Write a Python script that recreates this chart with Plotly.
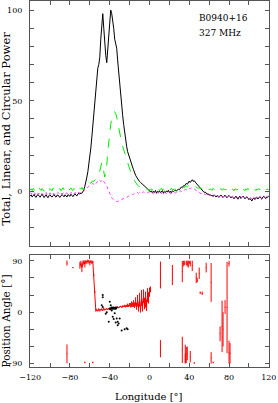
import numpy as np
import plotly.graph_objects as go

# ---------------- data ----------------
lon = np.arange(-120, 121, 1)  # 1-degree bins

total_I = [
    -2.5, -1.8, -3.0, -2.2, -1.5, -2.8, -3.2, -2.0, -1.6, -2.6,
    -3.1, -2.2, -1.4, -2.5, -3.3, -2.4, -1.7, -2.9, -3.4, -2.1,
    -1.8, -2.7, -3.0, -2.3, -1.5, -2.6, -3.1, -2.0, -1.9, -2.8,
    -3.2, -2.4, -1.6, -2.2, -2.9, -1.8, -2.5, -3.0, -1.7, -2.2,
    -2.6, -1.5, -2.1, -2.8, -1.9, -1.2, -2.0, -2.4, -1.3, -1.0,
    -1.4, -0.8, -1.0, 0.0, 1.0, 3.0, 5.0, 8.0, 11.0, 15.0,
    19, 24, 30, 37, 44, 50, 59, 66, 68, 70,
    74, 84, 92, 98, 90, 81, 75, 71, 78, 88,
    96, 100, 98, 95, 90, 84, 81, 79, 72, 65,
    59, 53, 47, 42, 37, 32, 28, 25, 22, 20,
    18, 16, 15, 13.5, 12, 10, 9, 8, 7, 6,
    5.5, 5, 4.5, 4.5, 4, 3, 2.5, 2.5, 1.5, 1,
    0.5, -0.3, 0.4, -0.8, 0.2, -0.5, 0.6, -0.9, 0.1, -0.4,
    0.5, -0.7, -0.2, 0.6, -1.0, 0.0, -0.6, 0.4, -0.3, 0.7,
    -0.5, 0.2, -0.8, 0.5, -0.1, 0.3, 0.9, 0.2, 1.0, 1.4,
    1.0, 1.8, 2.5, 2.2, 3.2, 3.0, 3.6, 4.5, 4.0, 5.2,
    5.8, 5.0, 6.2, 6.5, 5.6, 6.0, 5.2, 4.5, 4.0, 3.2,
    3.0, 2.0, 1.2, 0.5, 0.0, -0.5, -0.2, -1.0, -1.5, -1.2,
    -2.0, -1.6, -2.4, -2.0, -2.8, -1.8, -2.5, -3.0, -2.2, -2.7,
    -3.2, -2.4, -1.9, -2.8, -3.3, -2.5, -2.0, -2.9, -3.4, -2.6,
    -2.1, -2.8, -3.5, -2.7, -3.0, -4.0, -3.2, -2.5, -3.6, -4.2,
    -3.0, -2.6, -3.8, -3.3, -2.5, -3.1, -4.0, -3.4, -2.9, -3.6,
    -4.5, -3.8, -4.8, -5.2, -4.0, -3.5, -4.4, -3.8, -3.2, -4.1,
    -3.5, -2.8, -3.7, -4.2, -3.0, -2.6, -3.4, -3.9, -2.8, -3.2,
    -2.5,
]

linear_L = [
    0.8, 1.5, 0.5, 1.8, 1.0, 0.3, 1.6, 1.2, 0.4, 1.9,
    1.1, 0.6, 1.7, 0.9, 0.2, 1.4, 1.8, 0.7, 1.2, 0.5,
    1.6, 1.0, 0.4, 1.9, 1.3, 0.6, 1.5, 2.0, 0.8, 1.1,
    1.7, 0.5, 1.3, 2.1, 0.9, 1.4, 0.6, 1.8, 1.2, 0.7,
    1.5, 2.0, 1.0, 0.6, 1.7, 1.3, 2.2, 0.9, 1.6, 1.1,
    1.8, 1.2, 2.3, 1.0, 1.5, 2.0, 3.0, 3.5, 3.0, 4.0,
    5.0, 4.5, 5.0, 6.0, 5.5, 6.0, 7.0, 7.0, 8.0, 9.0,
    11, 13, 16, 14, 10, 8, 10, 14, 22, 28,
    34, 37, 40, 42, 43.5, 44, 43, 41, 38, 34,
    31, 29, 27, 25, 23, 21, 19, 17.5, 15.5, 14,
    12.5, 11, 9.5, 8.5, 7, 6, 5, 4, 3.5, 3,
    2.5, 2.2, 2.0, 1.5, 1.8, 1.2, 1.6, 0.9, 1.4, 1.0,
    1.3, 0.7, 1.5, 1.0, 0.5, 1.6, 1.2, 0.8, 1.7, 1.1,
    0.6, 1.4, 1.9, 0.9, 1.3, 0.5, 1.6, 1.1, 0.7, 1.5,
    1.2, 0.8, 1.8, 1.0, 1.4, 0.6, 1.7, 1.3, 1.9, 1.5,
    2.0, 1.6, 2.2, 1.8, 2.5, 2.1, 2.8, 3.0, 2.6, 3.2,
    3.5, 3.0, 3.8, 3.4, 3.0, 3.3, 2.7, 2.4, 2.0, 1.8,
    2.2, 1.5, 1.9, 1.2, 1.6, 1.0, 1.4, 0.8, 1.3, 1.7,
    0.9, 1.5, 1.1, 0.6, 1.8, 1.2, 0.7, 1.4, 1.9, 1.0,
    0.5, 1.3, 1.7, 0.8, 1.2, 1.6, 0.9, 1.4, 0.6, 1.1,
    1.8, 1.0, 0.7, 1.5, 1.2, 0.4, 1.6, 1.1, 0.8, 1.7,
    1.3, 0.6, 1.4, 1.9, 0.9, 1.2, 0.5, 1.5, 1.0, 1.8,
    0.7, 1.3, 1.6, 0.8, 1.1, 1.9, 1.2, 0.6, 1.4, 1.0,
    1.7, 0.9, 1.3, 0.5, 1.5, 1.8, 1.1, 0.7, 1.4, 1.2,
    1.0,
]

circular_V = [
    -0.5, -1.2, -0.8, -1.5, -0.6, -1.0, -1.8, -0.7, -1.3, -0.9,
    -1.4, -0.6, -1.1, -1.7, -0.8, -1.2, -0.5, -1.6, -1.0, -1.3,
    -0.7, -1.5, -1.1, -0.6, -1.4, -1.8, -0.9, -1.2, -0.5, -1.0,
    -1.6, -0.8, -1.3, -1.0, -0.6, -1.5, -1.1, -0.7, -1.4, -0.9,
    -1.2, -0.5, -1.0, -1.6, -0.8, -1.1, -0.6, -1.3, -0.7, -0.4,
    -0.9, -0.3, -0.6, 0.0, 0.5, 0.8, 1.5, 2.0, 2.5, 3.0,
    3.5, 3.5, 4.0, 4.5, 4.0, 5.0, 4.5, 5.0, 5.5, 5.0,
    6.0, 5.5, 6.0, 6.5, 5.5, 5.0, 4.0, 3.0, 1.5, 0.0,
    -1.5, -2.5, -3.5, -4.0, -4.5, -5.0, -5.0, -5.5, -5.5, -5.0,
    -5.0, -4.5, -4.5, -4.0, -4.0, -3.5, -3.5, -3.0, -3.0, -2.5,
    -2.5, -2.0, -2.0, -1.5, -1.5, -1.0, -1.2, -0.8, -0.6, -1.0,
    -0.5, -0.8, -0.3, -0.6, -0.2, -0.5, 0.0, -0.4, -0.7, -0.3,
    -0.6, -1.0, -0.4, -0.8, -1.2, -0.5, -0.9, -1.3, -0.6, -1.0,
    -1.4, -0.7, -1.1, -0.5, -0.9, -1.3, -0.8, -1.2, -0.6, -1.0,
    -0.7, -1.2, -0.9, -0.5, -1.0, -0.6, -0.8, -0.3, -0.5, 0.0,
    -0.2, 0.3, 0.0, 0.6, 0.4, 0.9, 1.2, 1.0, 1.5, 1.3,
    1.8, 1.5, 2.0, 1.6, 1.2, 1.4, 0.9, 0.6, 0.2, -0.2,
    -0.5, -0.8, -1.2, -0.9, -1.5, -1.3, -1.8, -1.4, -2.0, -1.7,
    -2.2, -1.8, -2.5, -2.1, -2.7, -2.3, -2.0, -2.6, -2.9, -2.4,
    -2.8, -2.2, -2.6, -3.0, -2.5, -2.9, -2.3, -2.7, -3.1, -2.6,
    -2.4, -2.9, -3.2, -2.6, -3.0, -3.4, -2.8, -2.5, -3.1, -3.5,
    -2.9, -2.6, -3.3, -3.0, -2.7, -3.2, -3.6, -3.0, -2.8, -3.3,
    -3.7, -3.2, -3.9, -4.1, -3.5, -3.0, -3.6, -3.3, -2.9, -3.4,
    -3.1, -2.7, -3.2, -3.6, -2.8, -2.5, -3.0, -3.4, -2.6, -2.9,
    -2.4,
]

# main position-angle track (degrees) and its errors
pa_lon = list(range(-70, 2))
pa_val = [
    82, 85, 78, 86, 88, 84, 89, 87, 90, 88,
    86, 89, 87, 88, 65, 35, 3, 4, 2, 5,
    3, 4, 5, 3, 6, 4, 5, 6, 5, 6,
    7, 6, 7, 7, 8, 7, 8, 8, 9, 8,
    9, 10, 9, 10, 10, 11, 10, 11, 12, 11,
    13, 12, 14, 13, 15, 12, 18, 10, 20, 8,
    22, 5, 25, 10, 28, 15, 22, 12, 30, 25,
    35, 40,
]
pa_err = [
    6, 5, 8, 4, 3, 6, 2, 3, 2, 3,
    4, 2, 3, 2, 2, 2, 2, 2, 1, 2,
    2, 1, 2, 1, 2, 1, 1, 1, 1, 1,
    1, 1, 1, 1, 1, 1, 1, 1, 1, 1,
    1, 1, 1, 2, 1, 2, 2, 2, 3, 2,
    3, 4, 5, 4, 6, 5, 8, 6, 10, 7,
    12, 6, 14, 9, 12, 10, 14, 10, 12, 10,
    8, 5,
]

# isolated position-angle measurements (centre, half-length)
seg_lon = [-83, -83, -77, -65, -57, 11, 11, 23, 33, 33, 34, 35, 36, 37, 38,
           39, 40, 41, 43, 36, 37, 38, 41, 45, 47, 48, 50, 51, 53, 57, 62, 62,
           64, 71, 73, 74, 76, 78, 80, 80, 81]
seg_pa = [86, -73, 78, -88, -88, 65, -64, 65, 71, -66, 85, 86, -73, -75, -72,
          84, 87, 85, 81, -82, 86, 85, -78, -89, 60, 56, 68, 34, 33, 78, 52, -80,
          -88, -38, -25, -30, 9, 8, 85, -70, -72]
seg_err = [4.5, 16.5, 1, 1.5, 1.5, 23.5, 15, 17.5, 18.5, 23, 5, 4, 16, 14, 12,
           6, 3, 5, 9, 8, 4, 5, 10, 1.5, 9, 4, 10, 2, 3, 8.5, 34, 10,
           1.5, 13, 45, 30, 12, 80, 5, 20, 18]

# individual black position-angle samples
dot_lon = [-47, -47, -47, -48, -40, -39, -38, -41, -37, -35, -33, -32, -30, -31,
           -32, -28, -25, -23, -22, -43, -44, -40, -39.5, -39, -38.5, -38, -37.5,
           -37, -36.5, -36, -35.5, -35, -34.5, -34, -33.5, -33, -36, -34]
dot_pa = [30, 26, 9, 12, 18, 12, 3, -17, -8, -2, -11, -17, -11, -20,
          -23, -32, -30, -28, -30, 0, -3, 6, 5, 7, 6, 8, 7,
          6, 8, 7, 6, 7, 8, 6, 7, 8, -12, -18]

# ---------------- figure ----------------
FONT = "DejaVu Serif"
AX = "#555555"

fig = go.Figure()
fig.add_trace(go.Scatter(x=lon, y=total_I, mode="lines",
                         line=dict(color="black", width=1), xaxis="x", yaxis="y"))
fig.add_trace(go.Scatter(x=lon, y=linear_L, mode="lines",
                         line=dict(color="#00ee00", width=1, dash="dash"), xaxis="x", yaxis="y"))
fig.add_trace(go.Scatter(x=lon, y=circular_V, mode="lines",
                         line=dict(color="#ff33ff", width=1, dash="dot"), xaxis="x", yaxis="y"))

fig.add_trace(go.Scatter(x=pa_lon, y=pa_val, mode="lines",
                         line=dict(color="red", width=1),
                         error_y=dict(type="data", array=pa_err, visible=True,
                                      color="red", thickness=1, width=0),
                         xaxis="x2", yaxis="y2"))
fig.add_trace(go.Scatter(x=seg_lon, y=seg_pa, mode="markers",
                         marker=dict(color="red", size=1),
                         error_y=dict(type="data", array=seg_err, visible=True,
                                      color="red", thickness=1, width=0),
                         xaxis="x2", yaxis="y2"))
fig.add_trace(go.Scatter(x=dot_lon, y=dot_pa, mode="markers",
                         marker=dict(color="black", size=2),
                         xaxis="x2", yaxis="y2"))

axis_common = dict(showline=True, mirror="allticks", linecolor=AX, linewidth=1,
                   ticks="inside", ticklen=4, tickcolor=AX, tickwidth=1,
                   showgrid=False, zeroline=False, automargin=False,
                   tickfont=dict(family=FONT, size=8, color="black"))

fig.update_layout(
    width=278, height=403, autosize=False,
    margin=dict(l=30, r=9, t=1, b=36, autoexpand=False),
    paper_bgcolor="white", plot_bgcolor="white",
    showlegend=False,
    xaxis=dict(domain=[0, 1], anchor="y", range=[-120.2, 120.2], tick0=0, dtick=40,
               showticklabels=False,
               minor=dict(dtick=20, tick0=0, ticks="inside", ticklen=4, tickcolor=AX),
               **axis_common),
    yaxis=dict(domain=[0.3306, 1], anchor="x", range=[-30, 105], tick0=0, dtick=50,
               ticklabelstandoff=5,
               minor=dict(dtick=10, tick0=0, ticks="inside", ticklen=4, tickcolor=AX),
               **axis_common),
    xaxis2=dict(domain=[0, 1], anchor="y2", range=[-120.2, 120.2], tick0=0, dtick=40,
                ticklabelstandoff=2,
                minor=dict(dtick=20, tick0=0, ticks="inside", ticklen=4, tickcolor=AX),
                **axis_common),
    yaxis2=dict(domain=[0, 0.306], anchor="x2", range=[-96, 100], tick0=0, dtick=90,
                ticklabelstandoff=5,
                minor=dict(dtick=30, tick0=0, ticks="inside", ticklen=4, tickcolor=AX),
                **axis_common),
    annotations=[
        dict(text="Total, Linear, and Circular Power", xref="paper", yref="paper",
             x=-0.1004, y=0.6516, textangle=-90, showarrow=False,
             xanchor="center", yanchor="middle",
             font=dict(family=FONT, size=11.5, color="black")),
        dict(text="Position Angle [°]", xref="paper", yref="paper",
             x=-0.1004, y=0.1243, textangle=-90, showarrow=False,
             xanchor="center", yanchor="middle",
             font=dict(family=FONT, size=10.5, color="black")),
        dict(text="Longitude [°]", xref="paper", yref="paper",
             x=0.498, y=-0.0811, showarrow=False,
             xanchor="center", yanchor="middle",
             font=dict(family=FONT, size=10, color="black")),
        dict(text="B0940+16", xref="paper", yref="paper",
             x=0.6975, y=0.9536, showarrow=False,
             xanchor="left", yanchor="middle",
             font=dict(family=FONT, size=9, color="black")),
        dict(text="327 MHz", xref="paper", yref="paper",
             x=0.6975, y=0.9117, showarrow=False,
             xanchor="left", yanchor="middle",
             font=dict(family=FONT, size=9, color="black")),
    ],
)

fig.write_html(
    "out.html",
    config={"displayModeBar": False, "staticPlot": True},
    post_script="document.body.style.margin='0';document.body.style.padding='0';"
                "document.documentElement.style.overflow='hidden';",
)
